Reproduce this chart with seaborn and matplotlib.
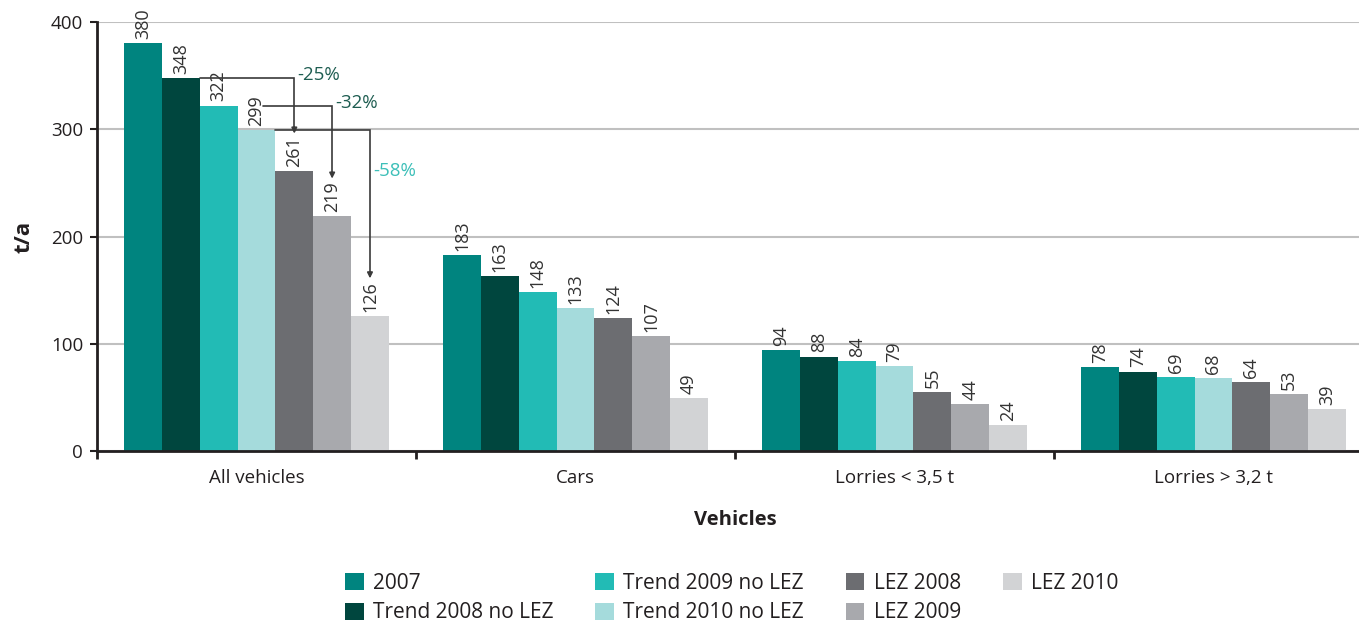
import matplotlib
matplotlib.use("Agg")
import matplotlib.pyplot as plt
import seaborn as sns
import pandas as pd
import numpy as np

# Emissions per vehicle class and scenario (t/a)
categories = ["All vehicles", "Cars", "Lorries < 3,5 t", "Lorries > 3,2 t"]
series = ["2007", "Trend 2008 no LEZ", "Trend 2009 no LEZ", "Trend 2010 no LEZ",
          "LEZ 2008", "LEZ 2009", "LEZ 2010"]
v_2007 = [380, 183, 94, 78]
v_trend_2008 = [348, 163, 88, 74]
v_trend_2009 = [322, 148, 84, 69]
v_trend_2010 = [299, 133, 79, 68]
v_lez_2008 = [261, 124, 55, 64]
v_lez_2009 = [219, 107, 44, 53]
v_lez_2010 = [126, 49, 24, 39]
yticks = [0, 100, 200, 300, 400]

colors = ["#00847F", "#00463E", "#22BBB5", "#A5DBDC", "#6C6D71", "#A8A9AD", "#D2D3D5"]

values = [v_2007, v_trend_2008, v_trend_2009, v_trend_2010, v_lez_2008, v_lez_2009, v_lez_2010]
df = pd.DataFrame({
    "Vehicles": [c for _ in series for c in categories],
    "t/a": [v for vals in values for v in vals],
    "Scenario": [s for s in series for _ in categories],
})

sns.set_theme(style="white")
plt.rcParams["font.family"] = ["Open Sans", "DejaVu Sans"]
text_col = "#231F20"

fig = plt.figure(figsize=(13.59, 6.23), dpi=100)
ax = fig.add_axes([97 / 1359, 1 - 451 / 623, 1276 / 1359, 429 / 623])

group_w = 0.83
sns.barplot(data=df, x="Vehicles", y="t/a", hue="Scenario", order=categories,
            hue_order=series, palette=colors, width=group_w, gap=0,
            saturation=1, linewidth=0, edgecolor="none", ax=ax, legend=True)

for cont in ax.containers:
    ax.bar_label(cont, fmt="%d", rotation=90, padding=3, fontsize=13, color="#333333")

ax.set_xlim(-0.5, len(categories) - 0.5)
ax.set_ylim(0, 400)
ax.set_yticks(yticks)
ax.yaxis.grid(True, color="#C0C0C0", linewidth=1.5)
ax.set_axisbelow(True)
for s in ["top", "right"]:
    ax.spines[s].set_visible(False)
for s in ["left", "bottom"]:
    ax.spines[s].set_color(text_col)
    ax.spines[s].set_linewidth(2)

ax.tick_params(axis="y", which="major", direction="out", length=5, width=1.5,
               color=text_col, labelsize=13.5, labelcolor=text_col, pad=5, left=True)
ax.tick_params(axis="x", which="major", length=0, labelsize=13.5, labelcolor=text_col, pad=13)
ax.set_xticks(np.arange(len(categories)) - 0.5, minor=True)
ax.tick_params(axis="x", which="minor", direction="out", length=6, width=2,
               color=text_col, bottom=True)

ax.set_xlabel("Vehicles", fontsize=14.5, fontweight="bold", color=text_col, labelpad=16.5)
ax.set_ylabel("t/a", fontsize=16, fontweight="bold", color=text_col, labelpad=12)

# Reduction arrows between trend and LEZ scenarios for all vehicles
bar_w = group_w / len(series)


def bar_center(i, group=0):
    return group - group_w / 2 + (i + 0.5) * bar_w


arrow_col = "#3A3A3A"
reductions = [
    # (from series, to series, start x, label colour, label offset in points)
    (1, 4, bar_center(1) + bar_w / 2, "#1E5D51", (2, 2)),
    (2, 5, bar_center(3) + 0.17 * bar_w, "#1E5D51", (2, 2)),
    (3, 6, bar_center(3) + bar_w / 2, "#3CBFB8", (2, -29)),
]
for src, dst, x0, col, off in reductions:
    y0 = values[src][0]
    y1 = values[dst][0]
    x1 = bar_center(dst)
    yend = y1 + 35
    ax.plot([x0, x1, x1], [y0, y0, yend + 4], color=arrow_col, lw=1.2,
            solid_joinstyle="miter", zorder=3)
    ax.annotate("", xy=(x1, yend), xytext=(x1, yend + 6),
                arrowprops=dict(arrowstyle="-|>", color=arrow_col, lw=1.2,
                                mutation_scale=8, shrinkA=0, shrinkB=0), zorder=3)
    pct = round((y1 / y0 - 1) * 100)
    ax.annotate(f"{pct}%", xy=(x1, y0), xytext=off, textcoords="offset points",
                ha="left", va="center", fontsize=13.5, color=col)

handles, labels = ax.get_legend_handles_labels()
ax.get_legend().remove()
fig.legend(handles, labels, loc="upper left", bbox_to_anchor=(345 / 1359, 1 - 573 / 623),
           ncol=4, frameon=False, fontsize=15, handlelength=0.9, handleheight=0.9,
           handletextpad=0.45, columnspacing=2.0, labelspacing=0.4,
           borderpad=0, borderaxespad=0, labelcolor=text_col)

fig.savefig("out.png", dpi=100)
